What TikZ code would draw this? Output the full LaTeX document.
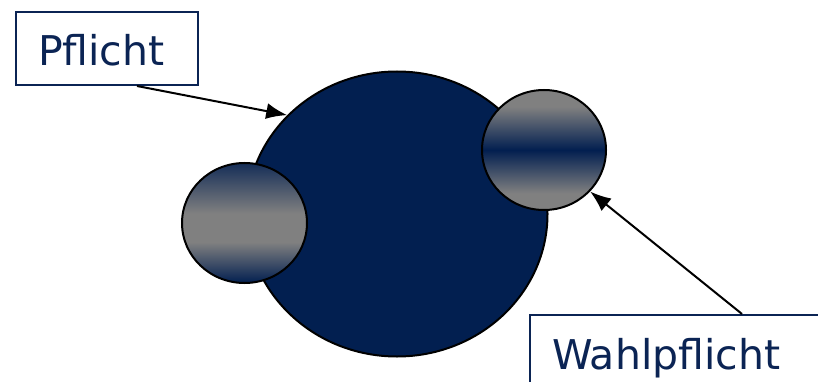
\documentclass[tikz,border=0pt]{standalone}
\usepackage{fontspec}
\setmainfont{DejaVu Sans}
\usetikzlibrary{shapes.geometric,arrows.meta}
\definecolor{navy}{RGB}{2,31,80}
\definecolor{txtnavy}{RGB}{11,36,84}
\definecolor{ballgray}{RGB}{128,128,128}
\pgfdeclareverticalshading{topball}{100bp}{color(0bp)=(ballgray); color(32bp)=(ballgray); color(50bp)=(navy); color(68bp)=(ballgray); color(100bp)=(ballgray)}
\pgfdeclareverticalshading{sideball}{100bp}{color(0bp)=(navy); color(25bp)=(navy); color(42bp)=(ballgray); color(54bp)=(ballgray); color(75bp)=(navy!85!ballgray); color(100bp)=(navy)}
\tikzset{
  labelbox/.style={draw=txtnavy, line width=2pt, fill=white, anchor=north west,
    text=txtnavy, font=\fontsize{41}{41}\selectfont, align=left,
    inner xsep=22pt, inner ysep=19pt, text height=35pt, text depth=0pt},
  ball/.style={ellipse, draw=black, line width=2pt, inner sep=0pt},
  pointer/.style={draw=black, line width=2pt, -{Latex[length=21pt,width=16pt]}}
}
\begin{document}
\begin{tikzpicture}[x=1pt,y=1pt]
\useasboundingbox[fill=white] (0,0) rectangle (818,-382);
\clip (0,0) rectangle (818,-382);
\node[ball, fill=navy, minimum width=301pt, minimum height=285pt] (main) at (397,-214) {};
\node[ball, shading=topball, minimum width=124pt, minimum height=120pt] (rball) at (544,-150) {};
\node[ball, shading=sideball, minimum width=125pt, minimum height=120pt] (lball) at (244.5,-223) {};
\node[labelbox, text width=138pt] (pbox) at (15,-11) {Pflicht};
\node[labelbox, text width=300pt] (wbox) at (529,-314) {Wahlpflicht};
\draw[pointer] ([xshift=30pt]pbox.south) -- (main.138.6);
\draw[pointer] ([xshift=213pt]wbox.north west) -- (rball.-42.5);
\end{tikzpicture}
\end{document}
